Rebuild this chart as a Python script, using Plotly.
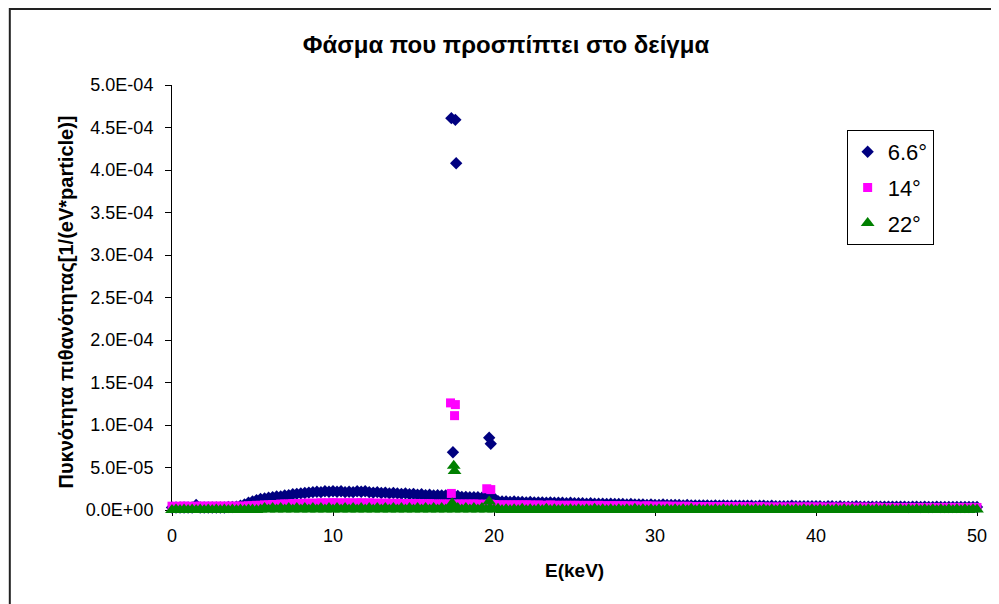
import plotly.graph_objects as go

# ---------------- data ----------------
SCALE = 1e-5  # values below are in units of 1e-5 (1/(eV*particle))

energy_keV = [
    0.0, 0.25, 0.5, 0.75, 1.0, 1.25, 1.5, 1.75, 2.0, 2.25, 2.5, 2.75, 3.0, 3.25, 3.5, 3.75, 4.0, 4.25, 4.5, 4.75,
    5.0, 5.25, 5.5, 5.75, 6.0, 6.25, 6.5, 6.75, 7.0, 7.25, 7.5, 7.75, 8.0, 8.25, 8.5, 8.75, 9.0, 9.25, 9.5, 9.75,
    10.0, 10.25, 10.5, 10.75, 11.0, 11.25, 11.5, 11.75, 12.0, 12.25, 12.5, 12.75, 13.0, 13.25, 13.5, 13.75, 14.0, 14.25, 14.5, 14.75,
    15.0, 15.25, 15.5, 15.75, 16.0, 16.25, 16.5, 16.75, 17.0, 17.25, 17.5, 17.75, 18.0, 18.25, 18.5, 18.75, 19.0, 19.25, 19.5, 19.75,
    20.0, 20.25, 20.5, 20.75, 21.0, 21.25, 21.5, 21.75, 22.0, 22.25, 22.5, 22.75, 23.0, 23.25, 23.5, 23.75, 24.0, 24.25, 24.5, 24.75,
    25.0, 25.25, 25.5, 25.75, 26.0, 26.25, 26.5, 26.75, 27.0, 27.25, 27.5, 27.75, 28.0, 28.25, 28.5, 28.75, 29.0, 29.25, 29.5, 29.75,
    30.0, 30.25, 30.5, 30.75, 31.0, 31.25, 31.5, 31.75, 32.0, 32.25, 32.5, 32.75, 33.0, 33.25, 33.5, 33.75, 34.0, 34.25, 34.5, 34.75,
    35.0, 35.25, 35.5, 35.75, 36.0, 36.25, 36.5, 36.75, 37.0, 37.25, 37.5, 37.75, 38.0, 38.25, 38.5, 38.75, 39.0, 39.25, 39.5, 39.75,
    40.0, 40.25, 40.5, 40.75, 41.0, 41.25, 41.5, 41.75, 42.0, 42.25, 42.5, 42.75, 43.0, 43.25, 43.5, 43.75, 44.0, 44.25, 44.5, 44.75,
    45.0, 45.25, 45.5, 45.75, 46.0, 46.25, 46.5, 46.75, 47.0, 47.25, 47.5, 47.75, 48.0, 48.25, 48.5, 48.75, 49.0, 49.25, 49.5, 49.75,
    50.0,
]

# 6.6 degrees - continuum
cont_66 = [
    0.3, 0.3, 0.3, 0.3, 0.3, 0.3, 0.6, 0.3, 0.3, 0.3, 0.3, 0.3, 0.3, 0.3, 0.35, 0.35, 0.4, 0.5, 0.65, 0.85,
    1.0, 1.15, 1.3, 1.35, 1.45, 1.5, 1.6, 1.6, 1.7, 1.75, 1.85, 1.9, 1.95, 2.0, 2.05, 2.1, 2.15, 2.1, 2.2, 2.15,
    2.2, 2.15, 2.2, 2.1, 2.15, 2.1, 2.2, 2.15, 2.2, 2.1, 2.05, 2.1, 2.0, 2.05, 1.95, 2.0, 1.95, 1.9, 1.95, 1.85,
    1.9, 1.8, 1.85, 1.75, 1.8, 1.7, 1.75, 1.7, 1.7, 1.65, 1.7, 1.65, 1.55, 1.55, 1.5, 1.5, 1.5, 1.45, 1.5, 1.45,
    1.4, 1.05, 1.0, 1.0, 0.95, 1.0, 0.95, 0.95, 0.9, 0.95, 0.9, 0.9, 0.9, 0.85, 0.9, 0.85, 0.85, 0.85, 0.8, 0.85,
    0.8, 0.8, 0.8, 0.75, 0.8, 0.75, 0.75, 0.75, 0.7, 0.75, 0.7, 0.7, 0.7, 0.65, 0.7, 0.65, 0.65, 0.65, 0.6, 0.65,
    0.6, 0.6, 0.65, 0.6, 0.6, 0.6, 0.6, 0.55, 0.6, 0.55, 0.55, 0.55, 0.55, 0.55, 0.5, 0.55, 0.5, 0.55, 0.5, 0.5,
    0.5, 0.5, 0.5, 0.5, 0.5, 0.45, 0.5, 0.5, 0.45, 0.5, 0.45, 0.45, 0.45, 0.45, 0.5, 0.45, 0.45, 0.45, 0.45, 0.45,
    0.45, 0.45, 0.4, 0.45, 0.45, 0.4, 0.45, 0.4, 0.4, 0.4, 0.45, 0.4, 0.4, 0.4, 0.4, 0.4, 0.4, 0.4, 0.4, 0.4,
    0.4, 0.4, 0.4, 0.35, 0.4, 0.4, 0.35, 0.4, 0.35, 0.35, 0.4, 0.35, 0.35, 0.35, 0.35, 0.35, 0.35, 0.35, 0.35, 0.35,
    0.35,
]

# 14 degrees - continuum
cont_14 = [
    0.45, 0.4, 0.45, 0.45, 0.45, 0.4, 0.45, 0.45, 0.45, 0.45, 0.45, 0.45, 0.45, 0.45, 0.45, 0.45, 0.45, 0.45, 0.45, 0.5,
    0.5, 0.55, 0.55, 0.6, 0.6, 0.65, 0.65, 0.7, 0.7, 0.7, 0.75, 0.75, 0.75, 0.8, 0.8, 0.8, 0.8, 0.85, 0.8, 0.85,
    0.85, 0.85, 0.8, 0.85, 0.85, 0.8, 0.85, 0.85, 0.8, 0.85, 0.8, 0.8, 0.8, 0.8, 0.8, 0.75, 0.8, 0.75, 0.75, 0.75,
    0.75, 0.75, 0.75, 0.7, 0.75, 0.7, 0.7, 0.7, 0.7, 0.7, 0.7, 0.7, 0.7, 0.7, 0.7, 0.7, 0.7, 0.65, 0.7, 0.7,
    0.65, 0.6, 0.6, 0.6, 0.6, 0.6, 0.6, 0.6, 0.6, 0.6, 0.55, 0.6, 0.55, 0.55, 0.6, 0.55, 0.55, 0.55, 0.55, 0.55,
    0.55, 0.55, 0.5, 0.55, 0.5, 0.5, 0.55, 0.5, 0.5, 0.5, 0.5, 0.5, 0.5, 0.5, 0.45, 0.5, 0.45, 0.45, 0.5, 0.45,
    0.45, 0.45, 0.45, 0.45, 0.45, 0.4, 0.45, 0.4, 0.45, 0.4, 0.4, 0.4, 0.4, 0.4, 0.4, 0.4, 0.4, 0.4, 0.4, 0.4,
    0.4, 0.4, 0.35, 0.4, 0.35, 0.35, 0.4, 0.35, 0.35, 0.35, 0.35, 0.35, 0.35, 0.35, 0.35, 0.35, 0.35, 0.35, 0.35, 0.35,
    0.35, 0.35, 0.35, 0.3, 0.35, 0.35, 0.3, 0.35, 0.35, 0.3, 0.35, 0.3, 0.35, 0.3, 0.3, 0.35, 0.3, 0.3, 0.3, 0.3,
    0.3, 0.3, 0.3, 0.3, 0.3, 0.3, 0.3, 0.3, 0.3, 0.3, 0.3, 0.3, 0.3, 0.3, 0.3, 0.3, 0.3, 0.3, 0.3, 0.3,
    0.3,
]

# 22 degrees - continuum
cont_22 = [
    0.0, 0.05, 0.0, 0.05, 0.0, 0.05, 0.0, 0.05, 0.0, 0.05, 0.0, 0.05, 0.0, 0.05, 0.0, 0.05, 0.0, 0.05, 0.0, 0.05,
    0.05, 0.0, 0.05, 0.25, 0.05, 0.25, 0.05, 0.25, 0.05, 0.25, 0.05, 0.25, 0.05, 0.25, 0.05, 0.25, 0.05, 0.25, 0.05, 0.25,
    0.05, 0.25, 0.05, 0.25, 0.05, 0.25, 0.05, 0.25, 0.05, 0.25, 0.05, 0.25, 0.05, 0.25, 0.05, 0.25, 0.05, 0.25, 0.05, 0.25,
    0.05, 0.25, 0.05, 0.25, 0.05, 0.25, 0.05, 0.25, 0.05, 0.25, 0.05, 0.25, 0.05, 0.25, 0.05, 0.25, 0.05, 0.25, 0.05, 0.25,
    0.05, 0.15, 0.0, 0.1, 0.0, 0.1, 0.0, 0.15, 0.0, 0.1, 0.0, 0.1, 0.0, 0.15, 0.0, 0.1, 0.0, 0.1, 0.0, 0.1,
    0.0, 0.1, 0.0, 0.1, 0.0, 0.15, 0.0, 0.1, 0.0, 0.1, 0.0, 0.1, 0.0, 0.1, 0.0, 0.15, 0.0, 0.1, 0.0, 0.1,
    0.0, 0.1, 0.0, 0.1, 0.0, 0.1, 0.0, 0.1, 0.0, 0.15, 0.0, 0.1, 0.0, 0.1, 0.0, 0.1, 0.0, 0.1, 0.0, 0.1,
    0.0, 0.1, 0.0, 0.1, 0.0, 0.1, 0.0, 0.1, 0.0, 0.1, 0.0, 0.1, 0.0, 0.1, 0.0, 0.1, 0.0, 0.1, 0.0, 0.1,
    0.0, 0.1, 0.0, 0.1, 0.0, 0.1, 0.0, 0.1, 0.0, 0.1, 0.0, 0.1, 0.0, 0.1, 0.0, 0.1, 0.0, 0.1, 0.0, 0.1,
    0.0, 0.1, 0.0, 0.1, 0.0, 0.1, 0.0, 0.1, 0.0, 0.1, 0.0, 0.1, 0.0, 0.1, 0.0, 0.1, 0.0, 0.1, 0.0, 0.1,
    0.05,
]

# characteristic lines (Mo K-alpha / K-beta region)
peak_E_66 = [17.35, 17.6, 17.65, 17.45, 19.7, 19.8]
peak_v_66 = [46.1, 45.9, 40.8, 6.8, 8.5, 7.8]
peak_E_14 = [17.3, 17.6, 17.55, 17.35, 19.55, 19.8]
peak_v_14 = [12.6, 12.4, 11.1, 1.95, 2.5, 2.4]
peak_E_22 = [17.5, 17.55, 17.4, 19.7]
peak_v_22 = [5.2, 4.6, 0.8, 1.0]

series_names = ["6.6°", "14°", "22°"]
y_tick_vals = [0, 5e-5, 1e-4, 1.5e-4, 2e-4, 2.5e-4, 3e-4, 3.5e-4, 4e-4, 4.5e-4, 5e-4]
y_tick_text = ["0.0E+00", "5.0E-05", "1.0E-04", "1.5E-04", "2.0E-04", "2.5E-04",
               "3.0E-04", "3.5E-04", "4.0E-04", "4.5E-04", "5.0E-04"]
x_tick_vals = [0, 10, 20, 30, 40, 50]

title_text = "Φάσμα που προσπίπτει στο δείγμα"
x_title = "E(keV)"
y_title = "Πυκνότητα πιθανότητας[1/(eV*particle)]"

# ---------------- figure ----------------
FONT = "Arial, 'Liberation Sans', sans-serif"

def scaled(vals):
    return [v * SCALE for v in vals]

series = [
    (series_names[0], energy_keV + peak_E_66, scaled(cont_66 + peak_v_66), "diamond", "#000080", 9.5),
    (series_names[1], energy_keV + peak_E_14, scaled(cont_14 + peak_v_14), "square", "#FF00FF", 9),
    (series_names[2], energy_keV + peak_E_22, scaled(cont_22 + peak_v_22), "triangle-up", "#008000", 12),
]

fig = go.Figure()
for i, (name, xs, ys, sym, col, size) in enumerate(series):
    fig.add_trace(go.Scatter(
        x=xs, y=ys, mode="markers", name=name,
        legendgroup=f"g{i}",
        marker=dict(symbol=sym, color=col, size=size, opacity=1, line=dict(width=0)),
        cliponaxis=False,
    ))

# page offset of the figure (browser body margin)
OFF = 8
L, R, T, B = 164, 18, 77, 94
W, H = 991, 596
pw, ph = W - L - R, H - T - B

def px_x(page_x):
    return (page_x - OFF - L) / pw

def px_y(page_y):
    return (H - B - (page_y - OFF)) / ph

fig.update_layout(
    width=W, height=H,
    margin=dict(l=L, r=R, t=T, b=B),
    paper_bgcolor="white", plot_bgcolor="white",
    font=dict(family=FONT, color="black", size=17),
    title=dict(text=f"<b>{title_text}</b>", x=(506 - OFF) / W, xref="container", xanchor="center",
               y=1 - (45 - OFF) / H, yref="container", yanchor="middle",
               font=dict(size=24, family=FONT, color="black")),
    showlegend=True,
    legend=dict(x=px_x(850), y=px_y(130), xanchor="left", yanchor="top",
                bordercolor="black", borderwidth=1, bgcolor="white",
                font=dict(size=22, family=FONT, color="black"),
                tracegroupgap=4, itemsizing="trace"),
    xaxis=dict(range=[0, 50], tickvals=x_tick_vals, ticks="outside", ticklen=5,
               tickcolor="black", showline=True, linecolor="black", linewidth=1,
               showgrid=False, zeroline=False, mirror=False, ticklabelstandoff=4,
               layer="below traces",
               tickfont=dict(size=18, family=FONT, color="black")),
    yaxis=dict(range=[0, 5e-4], tickvals=y_tick_vals, ticktext=y_tick_text,
               ticks="outside", ticklen=6, tickcolor="black", showline=True,
               linecolor="black", linewidth=1, showgrid=False, zeroline=False,
               ticklabelstandoff=8, layer="below traces",
               tickfont=dict(size=18, family=FONT, color="black")),
    annotations=[
        dict(text=f"<b>{x_title}</b>", x=px_x(577), y=px_y(570), xref="paper", yref="paper",
             xanchor="center", yanchor="middle", showarrow=False,
             font=dict(size=19, family=FONT, color="black")),
        dict(text=f"<b>{y_title}</b>", x=px_x(65), y=px_y(302), xref="paper", yref="paper",
             xanchor="center", yanchor="middle", showarrow=False, textangle=-90,
             font=dict(size=20, family=FONT, color="black")),
    ],
    shapes=[
        dict(type="rect", xref="paper", yref="paper",
             x0=px_x(9), x1=px_x(1020), y0=px_y(640), y1=px_y(9),
             line=dict(color="#222222", width=2), fillcolor="rgba(0,0,0,0)", layer="below"),
    ],
)

fig.write_html("out.html")
